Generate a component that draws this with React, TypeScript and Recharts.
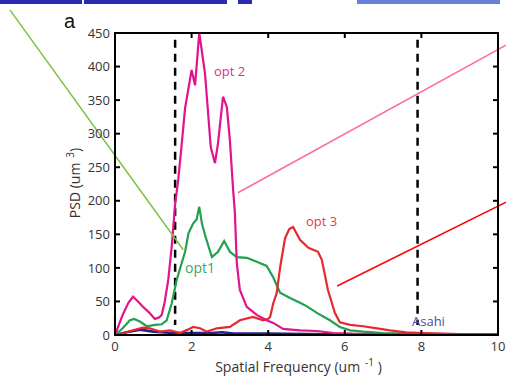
import { LineChart, Line, XAxis, YAxis, ReferenceLine } from "recharts";

// opt 2 (magenta)
const opt2Freq = [0, 0.2, 0.35, 0.47, 0.6, 0.73, 0.9, 1.04, 1.15, 1.22, 1.3, 1.39, 1.48, 1.57, 1.65, 1.72, 1.83, 1.92, 2.0, 2.09, 2.2, 2.35, 2.5, 2.61, 2.69, 2.82, 2.92, 3.0, 3.08, 3.13, 3.18, 3.26, 3.44, 3.7, 3.96, 4.13, 4.39, 4.6, 4.83, 5.27, 5.7, 6.2, 7, 8, 9, 10];
const opt2Psd = [0, 30, 48, 57, 50, 42, 33, 24, 26, 30, 50, 82, 131, 195, 231, 271, 338, 368, 395, 372, 450, 390, 280, 256, 286, 355, 340, 290, 220, 182, 107, 67, 42, 30, 22, 18, 9, 8, 7, 6, 3, 2, 1.5, 1, 1, 0.5];

// opt1 (green)
const opt1Freq = [0, 0.2, 0.39, 0.5, 0.65, 0.83, 1.04, 1.22, 1.35, 1.48, 1.61, 1.74, 1.83, 1.92, 2.04, 2.13, 2.2, 2.27, 2.35, 2.53, 2.69, 2.85, 3.0, 3.18, 3.44, 3.7, 3.96, 4.13, 4.31, 4.57, 4.83, 5.0, 5.27, 5.61, 5.87, 6.14, 6.48, 7, 8, 9, 10];
const opt1Psd = [0, 10, 22, 24, 20, 13, 15, 16, 22, 47, 82, 107, 124, 152, 166, 172, 191, 166, 149, 116, 124, 140, 124, 116, 115, 109, 103, 86, 63, 55, 48, 43, 33, 22, 12, 7, 5, 3, 2, 1, 0.5];

// opt 3 (red)
const opt3Freq = [0, 0.25, 0.47, 0.73, 0.91, 1.17, 1.44, 1.7, 1.9, 2.04, 2.22, 2.4, 2.66, 3.0, 3.26, 3.6, 3.87, 4.0, 4.05, 4.13, 4.22, 4.32, 4.44, 4.55, 4.65, 4.83, 5.05, 5.3, 5.4, 5.56, 5.74, 5.87, 6.14, 6.48, 6.84, 7.18, 7.6, 8.05, 9, 10];
const opt3Psd = [0, 3, 7, 11, 10, 5, 7, 3, 8, 12, 10, 5, 10, 12, 22, 27, 22, 24, 27, 47, 62, 104, 144, 158, 161, 142, 130, 124, 112, 67, 33, 19, 15, 13, 10, 7, 4, 3, 1.5, 1];

// Asahi (navy)
const asahiFreq = [0, 0.3, 0.65, 1.0, 1.5, 2.0, 2.5, 2.8, 3.1, 4, 5, 6, 7, 8, 9, 10];
const asahiPsd = [0, 4, 8, 5, 3, 3, 3, 4, 2, 2, 1.5, 1, 1, 1, 0.5, 0.5];

const xTicks = [0, 2, 4, 6, 8, 10];
const yTicks = [0, 50, 100, 150, 200, 250, 300, 350, 400, 450];
const cutoffs = [1.57, 7.9];
const xMax = 10;
const yMax = 450;

const toPoints = (freq: number[], psd: number[]) =>
  freq.map((f, i) => ({ freq: f, psd: psd[i] }));

const font = "'Open Sans', 'Noto Sans', sans-serif";
const tickStyle = { fontFamily: font, fontSize: 13, fill: "#333" };
const frame = { stroke: "#000", strokeWidth: 2 };

const XLabel = ({ viewBox }: any) => (
  <text
    x={viewBox.x + viewBox.width / 2 - 8}
    y={372}
    textAnchor="middle"
    fontFamily={font}
    fontSize={14}
    fill="#333"
  >
    Spatial Frequency (um
    <tspan dx={5} dy={-6} fontSize={10}>-1</tspan>
    <tspan dy={6}> )</tspan>
  </text>
);

const YLabel = () => (
  <text
    transform="translate(80,183) rotate(-90)"
    textAnchor="middle"
    fontFamily={font}
    fontSize={14}
    fill="#333"
  >
    PSD (um
    <tspan dx={5} dy={-6} fontSize={10}>3</tspan>
    <tspan dy={6}>)</tspan>
  </text>
);

const note = (color: string, left: number, top: number, size = 13) => ({
  position: "absolute" as const,
  left,
  top,
  color,
  fontFamily: font,
  fontSize: size,
  lineHeight: 1,
});

const bar = (left: number, width: number, color: string) => ({
  position: "absolute" as const,
  left,
  top: 0,
  width,
  height: 4,
  background: color,
});

export default function App() {
  return (
    <div style={{ position: "absolute", left: 0, top: 0, width: 506, height: 377, background: "#fff" }}>
      <div style={bar(0, 82, "#2b2bb0")} />
      <div style={bar(84, 143, "#2b2bb0")} />
      <div style={bar(238, 14, "#2b2bb0")} />
      <div style={bar(357, 143, "#6a80d8")} />
      <div style={{ ...note("#111", 64, 11, 20), fontFamily: "Arial, 'Liberation Sans', sans-serif" }}>a</div>

      <LineChart width={506} height={377} margin={{ top: 33, right: 8, left: 0, bottom: 0 }}>
        <XAxis
          dataKey="freq"
          type="number"
          domain={[0, xMax]}
          ticks={xTicks}
          height={42}
          tickSize={-5}
          tickMargin={12}
          tick={tickStyle}
          axisLine={frame}
          tickLine={frame}
          label={<XLabel />}
        />
        <YAxis
          type="number"
          domain={[0, yMax]}
          ticks={yTicks}
          width={115}
          tickSize={-5}
          tickMargin={10}
          tick={tickStyle}
          axisLine={frame}
          tickLine={frame}
          label={<YLabel />}
        />

        {/* inward ticks on the top and right edges */}
        {xTicks.map((t) => (
          <ReferenceLine key={"tx" + t} segment={[{ x: t, y: yMax }, { x: t, y: yMax - 7.5 }]} {...frame} />
        ))}
        {yTicks.map((t) => (
          <ReferenceLine key={"ty" + t} segment={[{ x: xMax, y: t }, { x: xMax - 0.13, y: t }]} {...frame} />
        ))}

        {cutoffs.map((c) => (
          <ReferenceLine
            key={c}
            segment={[{ x: c, y: 440 }, { x: c, y: 15 }]}
            stroke="#000"
            strokeWidth={2.5}
            strokeDasharray="8 6"
          />
        ))}

        <Line data={toPoints(asahiFreq, asahiPsd)} dataKey="psd" stroke="#23238a" strokeWidth={2.6} dot={false} isAnimationActive={false} />
        <Line data={toPoints(opt1Freq, opt1Psd)} dataKey="psd" stroke="#22a050" strokeWidth={2.2} dot={false} isAnimationActive={false} />
        <Line data={toPoints(opt3Freq, opt3Psd)} dataKey="psd" stroke="#e8282e" strokeWidth={2.2} dot={false} isAnimationActive={false} />
        <Line data={toPoints(opt2Freq, opt2Psd)} dataKey="psd" stroke="#e0148c" strokeWidth={2.2} dot={false} isAnimationActive={false} />

        {/* slide callout lines */}
        <ReferenceLine ifOverflow="visible" segment={[{ x: -2.74, y: 484 }, { x: 1.78, y: 127 }]} stroke="#7cc242" strokeWidth={1.5} />
        <ReferenceLine ifOverflow="visible" segment={[{ x: 3.21, y: 212 }, { x: 10.21, y: 432 }]} stroke="#ff6a9c" strokeWidth={1.5} />
        <ReferenceLine ifOverflow="visible" segment={[{ x: 5.8, y: 73 }, { x: 10.21, y: 198 }]} stroke="#ff0000" strokeWidth={1.5} />
      </LineChart>

      {/* plot box */}
      <div
        style={{
          position: "absolute",
          left: 114,
          top: 32,
          width: 385,
          height: 304,
          boxSizing: "border-box",
          border: "2px solid #000",
          pointerEvents: "none",
        }}
      />

      <div style={note("#d4348e", 214, 65)}>opt 2</div>
      <div style={note("#3aa860", 185, 261, 14)}>opt1</div>
      <div style={note("#e0403e", 306, 215)}>opt 3</div>
      <div style={note("#4848a8", 412, 315)}>Asahi</div>
    </div>
  );
}
